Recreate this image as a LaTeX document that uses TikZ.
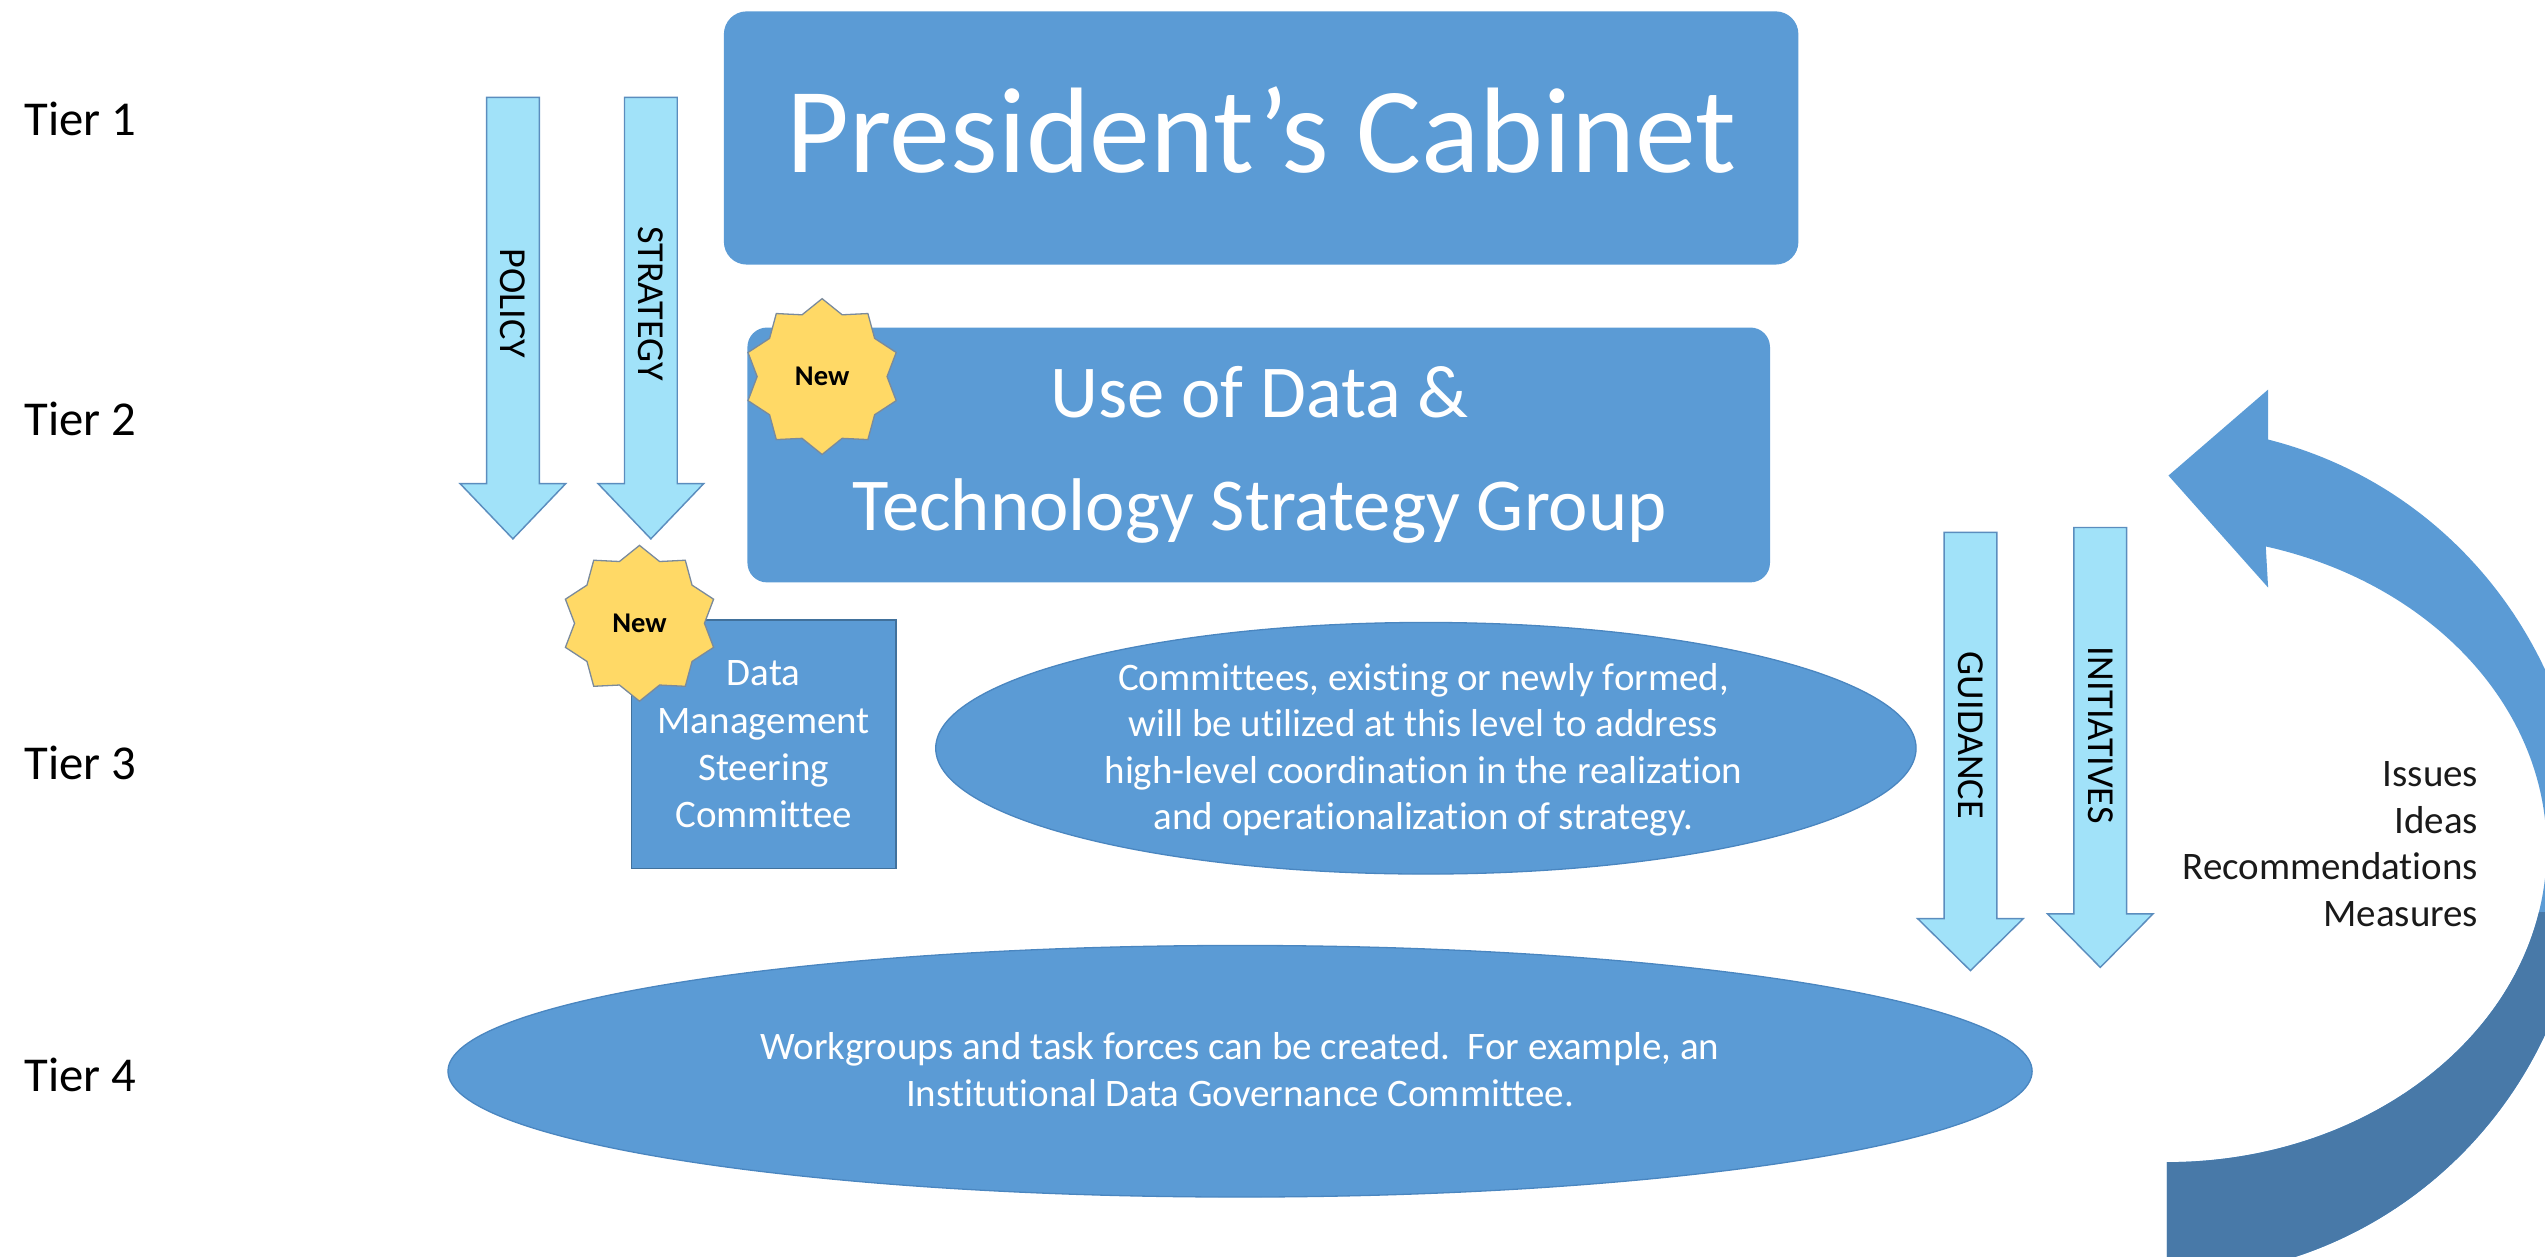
\documentclass[tikz,border=0pt]{standalone}
\usepackage{fontspec}
\setmainfont{Carlito}[Ligatures={NoCommon}]
\usetikzlibrary{shapes.geometric}
\definecolor{boxblue}{HTML}{5B9BD5}
\definecolor{edgeblue}{HTML}{4A86C0}
\definecolor{boxedge}{HTML}{41719C}
\definecolor{lightcyan}{HTML}{A1E2F9}
\definecolor{cyanedge}{HTML}{5B8DBE}
\definecolor{stargold}{HTML}{FFD966}
\definecolor{staredge}{HTML}{7A8A9C}
\definecolor{darkband}{HTML}{4879A8}
\definecolor{inktext}{HTML}{1A1A1A}
\newcommand\fs[2]{\fontsize{#1}{#2}\selectfont}
% #1 centre x, #2 top, #3 head base, #4 tip (all y measured downwards)
\newcommand\dnarrow[4]{%
  \draw[flowarrow] (#1-16.25,-#2) -- (#1+16.25,-#2) -- (#1+16.25,-#3) -- (#1+32.5,-#3)
    -- (#1,-#4) -- (#1-32.5,-#3) -- (#1-16.25,-#3) -- cycle;}
\begin{document}
\begin{tikzpicture}[x=1pt,y=1pt,
  tierlabel/.style={anchor=west, inner sep=0, font=\fs{30}{36}, text=black},
  roundbox/.style={rounded corners=14, fill=boxblue, draw=none, inner sep=0},
  boxtext/.style={text=white, inner sep=0, align=center},
  bubble/.style={ellipse, fill=boxblue, draw=edgeblue, line width=0.8, inner sep=0},
  flowarrow/.style={fill=lightcyan, draw=cyanedge, line width=0.9},
  arrowtext/.style={rotate=-90, inner sep=0, font=\fs{23.5}{28}, text=black},
  newstar/.style={star, star points=10, star point ratio=1.2, minimum size=96,
    inner sep=0, fill=stargold, draw=staredge, line width=0.8,
    font=\fs{17.6}{20}\bfseries, text=black}
]
\useasboundingbox (0,0) rectangle (1568,-774.4);

% tier labels
\node[tierlabel] (t1) at (15,-73) {Tier 1};
\node[tierlabel] (t2) at (15,-258) {Tier 2};
\node[tierlabel] (t3) at (15,-470) {Tier 3};
\node[tierlabel] (t4) at (15,-662) {Tier 4};

% light down arrows
\dnarrow{316}{60}{298}{332}
\dnarrow{401}{60}{298}{332}
\dnarrow{1214}{328}{566}{598}
\dnarrow{1294}{325}{563}{596}
\node[arrowtext] (policy) at (316,-187) {POLICY};
\node[arrowtext] (strategy) at (401,-187) {STRATEGY};
\node[arrowtext] (guidance) at (1214,-453) {GUIDANCE};
\node[arrowtext] (initiatives) at (1294,-453) {INITIATIVES};

% boxes
\node[roundbox, minimum width=662, minimum height=156] (pc) at (777,-85) {};
\node[boxtext, anchor=base, font=\fs{75}{90}] (pctext) at (777,-106) {President’s Cabinet};

\node[roundbox, rounded corners=12, minimum width=630, minimum height=157] (ud) at (775.5,-280.3) {};
\node[boxtext, anchor=base, font=\fs{46}{55}] (udtext1) at (776,-257) {Use of Data \&};
\node[boxtext, anchor=base, font=\fs{46}{55}] (udtext2) at (776,-327) {Technology Strategy Group};

\node[fill=boxblue, draw=boxedge, line width=0.8, minimum width=163, minimum height=153,
  inner sep=0, text=white, align=center, font=\fs{24}{29}] (dms) at (470.5,-458.5)
  {Data\\Management\\Steering\\Committee};

% ellipses
\node[bubble, minimum width=604, minimum height=155] (e3) at (878.5,-461) {};
\node[boxtext, font=\fs{24}{28.6}] (e3text) at (877,-462)
  {Committees, existing or newly formed,\\will be utilized at this level to address\\high-level coordination in the realization\\and operationalization of strategy.};
\node[bubble, minimum width=976, minimum height=155] (e4) at (764,-660) {};
\node[boxtext, font=\fs{24}{28.6}] (e4text) at (764,-659)
  {Workgroups and task forces can be created.\ \ For example, an\\Institutional Data Governance Committee.};

% stars
\node[newstar] (new1) at (506.5,-232) {New};
\node[newstar] (new2) at (394,-384) {New};

% curved feedback arrow
\begin{scope}
\clip (0,0) rectangle (1568,-774.4);
\fill[boxblue] (1336,-293) -- (1397.4,-240) -- (1397.4,-270.8)
  arc[start angle=76, end angle=-90, x radius=258, y radius=262] -- (1335,-716)
  arc[start angle=-90, end angle=74.9, x radius=234, y radius=193] -- (1397.4,-362) -- cycle;
\end{scope}
\begin{scope}
\clip (1200,-562) rectangle (1568,-774.4);
\fill[darkband] (1336,-293) -- (1397.4,-240) -- (1397.4,-270.8)
  arc[start angle=76, end angle=-90, x radius=258, y radius=262] -- (1335,-716)
  arc[start angle=-90, end angle=74.9, x radius=234, y radius=193] -- (1397.4,-362) -- cycle;
\end{scope}
\node[anchor=east, align=right, inner sep=0, font=\fs{24}{28.7}, text=inktext] (feedback) at (1527,-520)
  {Issues\\Ideas\\Recommendations\\Measures};
\end{tikzpicture}
\end{document}
